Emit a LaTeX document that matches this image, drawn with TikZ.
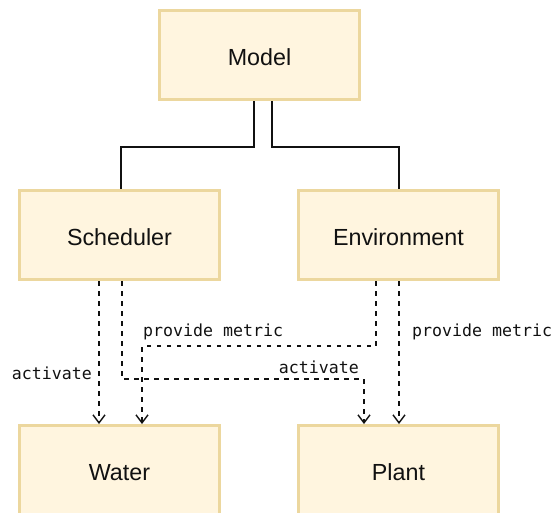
\documentclass[tikz,border=0pt]{standalone}
\usepackage{fontspec}
\setmainfont{Liberation Sans}
\newfontfamily\labelmono{DejaVu Sans Mono}
\usetikzlibrary{arrows.meta,calc}

\definecolor{boxfill}{HTML}{FFF5DF}
\definecolor{boxline}{HTML}{ECD79E}
\definecolor{ink}{HTML}{111111}

\tikzset{
  block/.style={draw=boxline, fill=boxfill, line width=3pt,
    minimum width=200pt, minimum height=89pt, inner sep=0pt,
    text height=21pt, text depth=0pt,
    font=\fontsize{23.3}{26}\selectfont, text=ink},
  link/.style={draw=ink, line width=1.4pt},
  flow/.style={draw=ink, line width=1.4pt, dash pattern=on 4.5pt off 5.5pt,
    -{Straight Barb[length=8pt,width=12pt,line width=1.4pt]}},
  tag/.style={font=\labelmono\fontsize{16.6}{18}\selectfont, text=ink, inner sep=0pt}
}

\begin{document}
\begin{tikzpicture}[x=1pt,y=-1pt]
  \useasboundingbox (0,0) rectangle (552,512);

  % components
  \node[block] (model) at (259.5,55)  {Model};
  \node[block] (sched) at (119.5,235) {Scheduler};
  \node[block] (env)   at (398.5,235) {Environment};
  \node[block] (water) at (119.5,470) {Water};
  \node[block] (plant) at (398.5,470) {Plant};

  % ownership links from the model
  \coordinate (mL) at ([xshift=-5.5pt]model.south);
  \coordinate (mR) at ([xshift=12.5pt]model.south);
  \coordinate (busM) at (0,147);
  \draw[link] (mL) -- (mL |- busM) -| ([xshift=1.5pt]sched.north);
  \draw[link] (mR) -- (mR |- busM) -| ([xshift=0.5pt]env.north);

  % scheduler activates water
  \draw[flow] ([xshift=-20.5pt]sched.south) -- ([xshift=-20.5pt]water.north);
  \node[tag, anchor=east] (actW) at (92,373) {activate};

  % scheduler activates plant
  \coordinate (s2) at ([xshift=2.5pt]sched.south);
  \coordinate (busA) at (0,379);
  \draw[flow] (s2) -- (s2 |- busA) -| ([xshift=-34.5pt]plant.north);
  \node[tag, anchor=east] (actP) at (359,367) {activate};

  % environment provides metric to water
  \coordinate (e1) at ([xshift=-22.5pt]env.south);
  \coordinate (busP) at (0,346);
  \draw[flow] (e1) -- (e1 |- busP) -| ([xshift=22.5pt]water.north);
  \node[tag, anchor=west] (metW) at (143,332) {provide metric};

  % environment provides metric to plant
  \draw[flow] ([xshift=0.5pt]env.south) -- ([xshift=0.5pt]plant.north);
  \node[tag, anchor=west] (metP) at (412,332) {provide metric};
\end{tikzpicture}
\end{document}
